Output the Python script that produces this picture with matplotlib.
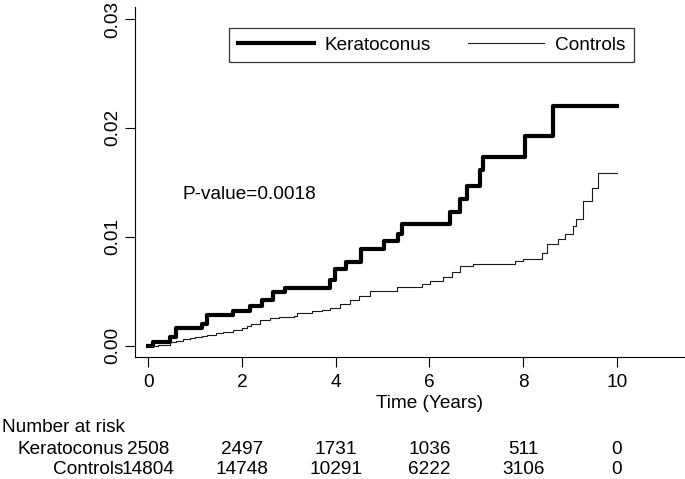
import numpy as np
import matplotlib
matplotlib.use("Agg")
import matplotlib.pyplot as plt
import matplotlib.transforms as mtransforms

plt.rcParams['font.family'] = ['Liberation Sans', 'DejaVu Sans']
FS = 13.7

# Step times (years) and cumulative incidence
kera_t = [0, 0.1, 0.46, 0.6, 1.14, 1.25, 1.81, 2.16, 2.42, 2.67, 2.92, 3.88, 3.98,
          4.23, 4.55, 5.02, 5.34, 5.41, 6.44, 6.65, 6.8, 7.08, 7.15, 8.05, 8.63, 10.0]
kera_y = [0, 0.0003, 0.0008, 0.0016, 0.002, 0.0028, 0.0032, 0.0036, 0.0042, 0.0049,
          0.0053, 0.006, 0.007, 0.0077, 0.0089, 0.0096, 0.0103, 0.0112, 0.0123, 0.0135,
          0.0147, 0.0161, 0.0173, 0.0193, 0.022, 0.022]

ctrl_t = [0, 0.2, 0.46, 0.6, 0.75, 0.9, 1.0, 1.15, 1.25, 1.45, 1.6, 1.8, 2.0, 2.1, 2.2,
          2.38, 2.6, 2.8, 3.1, 3.17, 3.5, 3.7, 3.88, 4.1, 4.3, 4.5, 4.73, 5.3, 5.84,
          6.01, 6.3, 6.48, 6.65, 6.94, 7.83, 8.0, 8.4, 8.5, 8.75, 8.9, 9.07, 9.13,
          9.28, 9.46, 9.6, 10.0]
ctrl_y = [0, 0.0001, 0.0003, 0.0004, 0.0006, 0.0007, 0.0008, 0.0009, 0.001, 0.0012,
          0.0013, 0.0014, 0.0016, 0.0018, 0.002, 0.0024, 0.0025, 0.0026, 0.0027, 0.003,
          0.0032, 0.0033, 0.0035, 0.0038, 0.0042, 0.0046, 0.005, 0.0054, 0.0057, 0.0059,
          0.0063, 0.0068, 0.0073, 0.0075, 0.0078, 0.008, 0.0085, 0.0093, 0.0098, 0.0103,
          0.011, 0.0116, 0.0133, 0.0145, 0.0159, 0.0159]

risk_times = [0, 2, 4, 6, 8, 10]
risk_kera = [2508, 2497, 1731, 1036, 511, 0]
risk_ctrl = [14804, 14748, 10291, 6222, 3106, 0]

W, H = 685, 479
fig = plt.figure(figsize=(W / 100, H / 100), dpi=100)
ax = fig.add_axes([135 / W, 1 - 357 / H, 550 / W, 350 / H])

ax.step(kera_t, kera_y, where='post', color='black', lw=3.0, label='Keratoconus')
ax.step(ctrl_t, ctrl_y, where='post', color='#1a1a1a', lw=0.8, label='Controls')

ax.set_xlim(-0.284, 11.455)
ax.set_ylim(-0.00104, 0.0311)
ax.set_xticks(risk_times)
ax.set_yticks([0, 0.01, 0.02, 0.03])
ax.set_yticklabels(['0.00', '0.01', '0.02', '0.03'], rotation=90, va='center')
ax.tick_params(axis='both', labelsize=FS, length=7, width=0.8, direction='out')
ax.tick_params(axis='x', pad=5)
ax.tick_params(axis='y', pad=3)
for s in ['top', 'right']:
    ax.spines[s].set_visible(False)
for s in ['left', 'bottom']:
    ax.spines[s].set_linewidth(0.8)

ax.text(0.74, 0.01384, 'P-value=0.0018', fontsize=FS, va='center', ha='left')

leg = ax.legend(loc='upper left', bbox_to_anchor=(229 / W, 1 - 28 / H),
                bbox_transform=fig.transFigure, ncol=2, fontsize=FS,
                frameon=True, fancybox=False, handlelength=4.0,
                handletextpad=0.58, columnspacing=1.95, borderpad=0.45,
                borderaxespad=0)
leg.get_frame().set_edgecolor('black')
leg.get_frame().set_linewidth(0.9)

fig.text(430 / W, 1 - 403 / H, 'Time (Years)', fontsize=FS, ha='center', va='center')

# Number at risk table
trans = mtransforms.blended_transform_factory(ax.transData, fig.transFigure)
fig.text(2 / W, 1 - 427 / H, 'Number at risk', fontsize=FS, ha='left', va='center')
fig.text(124 / W, 1 - 450 / H, 'Keratoconus', fontsize=FS, ha='right', va='center')
fig.text(123 / W, 1 - 469 / H, 'Controls', fontsize=FS, ha='right', va='center')
for t, k, c in zip(risk_times, risk_kera, risk_ctrl):
    ax.text(t, 1 - 450 / H, str(k), fontsize=FS, ha='center', va='center',
            transform=trans, clip_on=False)
    ax.text(t, 1 - 469 / H, str(c), fontsize=FS, ha='center', va='center',
            transform=trans, clip_on=False)

fig.savefig('out.png', dpi=100)
